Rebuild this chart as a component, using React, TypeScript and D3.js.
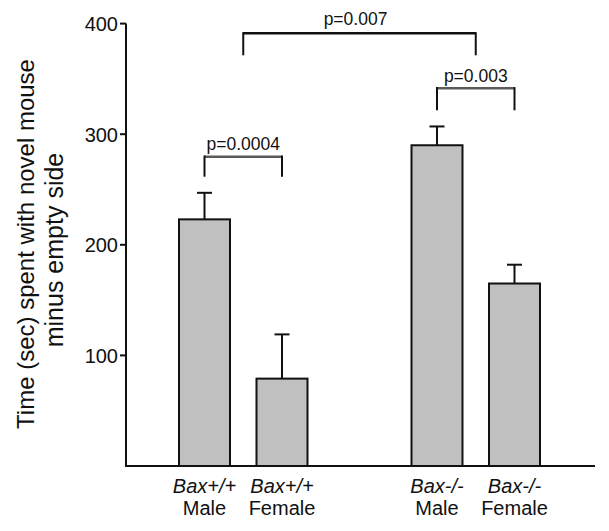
import React from "react";
import * as d3 from "d3";

const genotypes = ["Bax+/+", "Bax+/+", "Bax-/-", "Bax-/-"];
const sexes = ["Male", "Female", "Male", "Female"];
const slots = ["s0", "s1", "s3", "s4"];
const means = [223, 79, 290, 165];
const sems = [24, 40, 17, 17];
const yTicks = [100, 200, 300, 400];
const comparisons = [
  { label: "p=0.0004", from: ["s0"], to: ["s1"], level: 0 },
  { label: "p=0.003", from: ["s3"], to: ["s4"], level: 1 },
  { label: "p=0.007", from: ["s0", "s1"], to: ["s3", "s4"], level: 2 },
];

const FONT = "'Liberation Sans', Arial, Helvetica, sans-serif";

export default function App() {
  const W = 609;
  const H = 531;
  const axisX = 126;
  const y = d3.scaleLinear().domain([0, 400]).range([466, 23.6]);
  const x = d3
    .scaleBand<string>()
    .domain(["s0", "s1", "gap", "s3", "s4"])
    .range([165.75, 553.25])
    .paddingInner(0.342)
    .paddingOuter(0.171);
  const bw = x.bandwidth();
  const cx = (s: string) => (x(s) as number) + bw / 2;
  const capW = 15;

  // bracket geometry
  const bracketY = [156.7, 88.3, 33.3];
  const bracketDrop = [20, 22, 22];
  const textBase = [150, 81.7, 25];
  const hColor = ["#5a5a5a", "#5a5a5a", "#111"];

  return (
    <svg
      width={W}
      height={H}
      style={{ position: "absolute", left: 0, top: 0, background: "#fff" }}
      fontFamily={FONT}
    >
      {/* y-axis title */}
      <g transform={`translate(34, 244) rotate(-90)`}>
        <text textAnchor="middle" fontSize={24} fill="#111">
          Time (sec) spent with novel mouse
        </text>
      </g>
      <g transform={`translate(63, 250) rotate(-90)`}>
        <text textAnchor="middle" fontSize={25} fill="#111">
          minus empty side
        </text>
      </g>

      {/* bars */}
      {slots.map((s, i) => (
        <rect
          key={"b" + s}
          x={x(s)}
          y={y(means[i])}
          width={bw}
          height={y(0) - y(means[i])}
          fill="#c0c0c0"
          stroke="#111"
          strokeWidth={2}
        />
      ))}
      {/* error bars */}
      {slots.map((s, i) => (
        <g key={"e" + s} stroke="#111" strokeWidth={2}>
          <line x1={cx(s)} x2={cx(s)} y1={y(means[i])} y2={y(means[i] + sems[i])} />
          <line
            x1={cx(s) - capW / 2}
            x2={cx(s) + capW / 2}
            y1={y(means[i] + sems[i])}
            y2={y(means[i] + sems[i])}
          />
        </g>
      ))}

      {/* y axis */}
      <line x1={axisX} x2={axisX} y1={y(400)} y2={y(0)} stroke="#111" strokeWidth={2} />
      {yTicks.map((t) => (
        <g key={"t" + t}>
          <line x1={axisX - 6} x2={axisX} y1={y(t)} y2={y(t)} stroke="#111" strokeWidth={2} />
          <text
            x={118}
            y={y(t) + 7.5}
            textAnchor="end"
            fontSize={20}
            fill="#111"
          >
            {t}
          </text>
        </g>
      ))}
      {/* x axis */}
      <line x1={axisX - 1} x2={595} y1={y(0)} y2={y(0)} stroke="#111" strokeWidth={2} />

      {/* category labels */}
      {slots.map((s, i) => (
        <g key={"l" + s}>
          <text x={cx(s)} y={493} textAnchor="middle" fontSize={20} fontStyle="italic" fill="#111">
            {genotypes[i]}
          </text>
          <text x={cx(s)} y={515} textAnchor="middle" fontSize={20} fill="#111">
            {sexes[i]}
          </text>
        </g>
      ))}

      {/* significance brackets */}
      {comparisons.map((c) => {
        const x1 = d3.mean(c.from.map(cx)) as number;
        const x2 = d3.mean(c.to.map(cx)) as number;
        const by = bracketY[c.level];
        const drop = bracketDrop[c.level];
        return (
          <g key={c.label}>
            <line x1={x1} x2={x2} y1={by} y2={by} stroke={hColor[c.level]} strokeWidth={2.5} />
            <line x1={x1} x2={x1} y1={by - 1.2} y2={by + drop} stroke="#111" strokeWidth={2} />
            <line x1={x2} x2={x2} y1={by - 1.2} y2={by + drop} stroke="#111" strokeWidth={2} />
            <text
              x={c.level === 2 ? (x1 + x2) / 2 - 4 : (x1 + x2) / 2}
              y={textBase[c.level]}
              textAnchor="middle"
              fontSize={17.5}
              fill="#111"
            >
              {c.label}
            </text>
          </g>
        );
      })}
    </svg>
  );
}
